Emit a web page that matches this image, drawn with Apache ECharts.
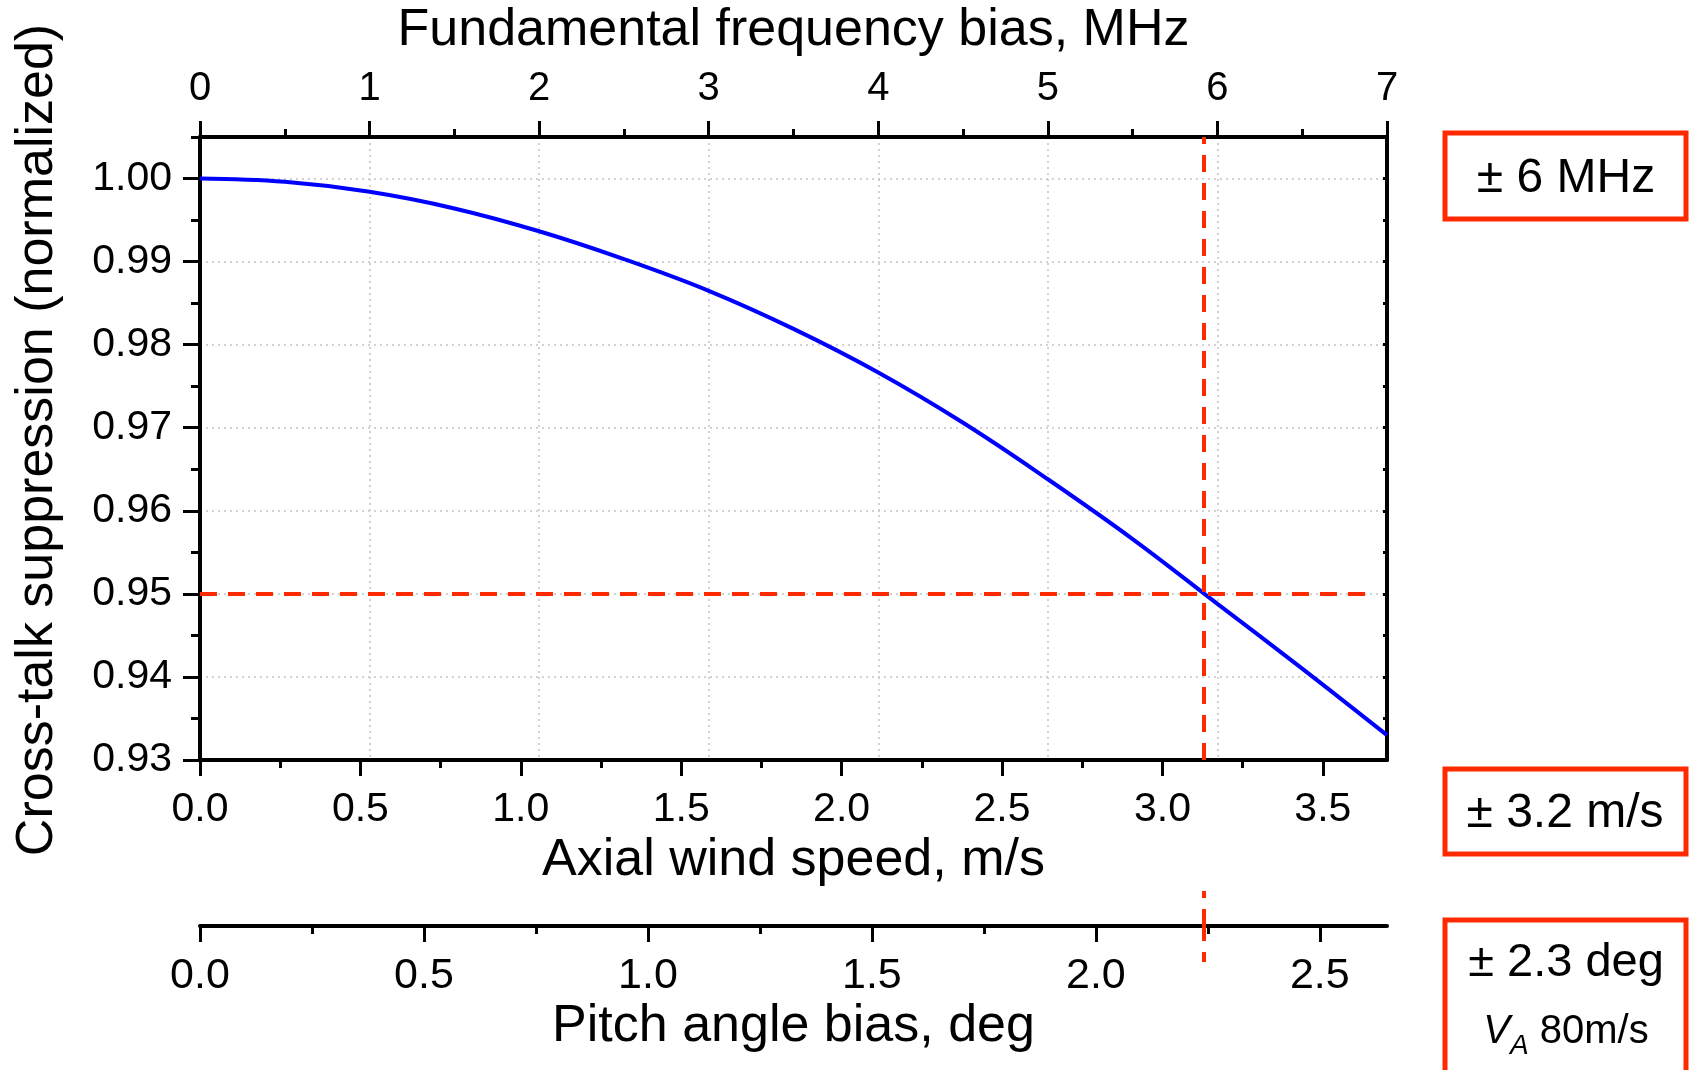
<!DOCTYPE html>
<html><head><meta charset="utf-8">
<script src="https://cdn.jsdelivr.net/npm/echarts@6/dist/echarts.min.js"></script>
<style>html,body{margin:0;padding:0;background:#fff}#c{width:1695px;height:1070px}</style>
</head><body><div id="c"></div>
<script>
// ---- data ----
const freqMHz = [0, 0.5, 1, 1.5, 2, 2.5, 3, 3.5, 4, 4.5, 5, 5.5, 6, 6.5, 7];
const suppression = [1.0000, 0.9996, 0.9984, 0.9964, 0.99365, 0.9903, 0.98648, 0.9819, 0.97665, 0.9706, 0.9638, 0.9566, 0.9488, 0.9410, 0.9330];
const thresholdLevel = 0.95;
const thresholdFreq = 5.92;
const thresholdLevelSpan = [0, 6.93];
const thresholdPitch = 2.24;
const freqRange = [0, 7];
const speedRange = [0, 3.7];
const pitchRange = [0, 2.65];
const yRange = [0.93, 1.005];
const yTicks = [0.93, 0.94, 0.95, 0.96, 0.97, 0.98, 0.99, 1.00];
const yMinorTicks = [0.935, 0.945, 0.955, 0.965, 0.975, 0.985, 0.995, 1.005];
const speedTicks = [0, 0.5, 1, 1.5, 2, 2.5, 3, 3.5];
const speedMinorTicks = [0.25, 0.75, 1.25, 1.75, 2.25, 2.75, 3.25];
const pitchTicks = [0, 0.5, 1, 1.5, 2, 2.5];
const pitchMinorTicks = [0.25, 0.75, 1.25, 1.75, 2.25];
const boxLabels = ['± 6 MHz', '± 3.2 m/s', '± 2.3 deg'];
const noteLabel = '{v|V}{a|A}{n| 80m/s}';

const FONT = '"Liberation Sans", Arial, Helvetica, sans-serif';
const RED = '#ff2a00';
const BLACK = '#000';
const PLOT = { left: 200, top: 137, width: 1187, height: 623 };
const PITCH_TOP = 891, PITCH_H = 35, PITCH_LOW_H = 36;

const axisLineStyle = { show: true, onZero: false, lineStyle: { color: BLACK, width: 4 } };
const tickStyle = (len, inside) => ({ show: true, inside: !!inside, length: len, lineStyle: { color: BLACK, width: 3 } });
const labelStyle = (size) => ({ color: BLACK, fontSize: size, fontFamily: FONT });
const nameStyle = { color: BLACK, fontSize: 52, fontFamily: FONT };
const dotted = { show: true, lineStyle: { color: '#c4c4c4', width: 1.5, type: [2, 4] } };
const dashed = { color: RED, width: 4, type: [17, 11] };
const hiddenAxis = (gi, range) => ({ type: 'value', gridIndex: gi, min: range[0], max: range[1], show: false, axisLine: { onZero: false } });
const last = a => a[a.length - 1];
// tick-only axis: regular interval ticks + minor ticks, no line/labels
const tickAxis = (gi, pos, ticks, majorLen, minorLen) => ({
  type: 'value', gridIndex: gi, position: pos, min: ticks[0], max: last(ticks), interval: ticks[1] - ticks[0],
  axisLine: { show: false, onZero: false },
  axisTick: tickStyle(majorLen),
  minorTick: { show: true, splitNumber: 2, length: minorLen, lineStyle: { color: BLACK, width: 3 } },
  axisLabel: { show: false }, splitLine: { show: false }
});

// grids for the tick-only axes (span only the ticked part of each axis)
const speedTickWidth = PLOT.width * (last(speedTicks) - speedRange[0]) / (speedRange[1] - speedRange[0]);
const pitchTickWidth = PLOT.width * (last(pitchTicks) - pitchRange[0]) / (pitchRange[1] - pitchRange[0]);
const yTickHeight = PLOT.height * (last(yTicks) - yRange[0]) / (yRange[1] - yRange[0]);

const chart = echarts.init(document.getElementById('c'), null, { renderer: 'canvas' });
chart.setOption({
  backgroundColor: '#fff',
  animation: false,
  textStyle: { fontFamily: FONT },
  grid: [
    Object.assign({ containLabel: false }, PLOT),                                                     // 0 main
    { left: PLOT.left, top: PITCH_TOP, width: PLOT.width, height: PITCH_H, containLabel: false },      // 1 pitch upper
    { left: PLOT.left, top: PITCH_TOP + PITCH_H, width: PLOT.width, height: PITCH_LOW_H, containLabel: false }, // 2 pitch lower
    { left: PLOT.left, top: PLOT.top, width: speedTickWidth, height: PLOT.height, containLabel: false }, // 3 speed ticks
    { left: PLOT.left, top: PLOT.top + PLOT.height - yTickHeight, width: PLOT.width, height: yTickHeight, containLabel: false }, // 4 y ticks
    { left: PLOT.left, top: PITCH_TOP, width: pitchTickWidth, height: PITCH_H, containLabel: false }     // 5 pitch ticks
  ],
  xAxis: [
    { // 0 top: frequency
      type: 'value', gridIndex: 0, position: 'top', min: freqRange[0], max: freqRange[1], interval: 1,
      axisLine: axisLineStyle, axisTick: tickStyle(16),
      minorTick: { show: true, splitNumber: 2, length: 8, lineStyle: { color: BLACK, width: 3 } },
      axisLabel: Object.assign({ margin: 28 }, labelStyle(40)),
      splitLine: dotted,
      name: 'Fundamental frequency bias, MHz', nameLocation: 'middle', nameGap: 80, nameTextStyle: nameStyle
    },
    { // 1 bottom: wind speed
      type: 'value', gridIndex: 0, position: 'bottom', min: speedRange[0], max: speedRange[1], interval: 0.5,
      axisLine: axisLineStyle,
      axisTick: Object.assign(tickStyle(16), { customValues: speedTicks }),
      axisLabel: Object.assign({ margin: 29, customValues: speedTicks, formatter: v => v.toFixed(1) }, labelStyle(41)),
      splitLine: { show: false },
      name: 'Axial wind speed, m/s', nameLocation: 'middle', nameGap: 72, nameTextStyle: nameStyle
    },
    { // 2 bottom minor ticks
      type: 'value', gridIndex: 0, position: 'bottom', min: speedRange[0], max: speedRange[1], interval: 0.25,
      axisLine: { show: false, onZero: false },
      axisTick: Object.assign(tickStyle(8), { customValues: speedMinorTicks }),
      axisLabel: { show: false }, splitLine: { show: false }
    },
    { // 3 pitch angle: line, labels, name
      type: 'value', gridIndex: 1, position: 'bottom', min: pitchRange[0], max: pitchRange[1], interval: 0.5,
      axisLine: { show: true, onZero: false, lineStyle: { color: BLACK, width: 4 } },
      axisTick: Object.assign(tickStyle(16), { customValues: pitchTicks }),
      axisLabel: Object.assign({ margin: 29, customValues: pitchTicks, formatter: v => v.toFixed(1) }, labelStyle(43)),
      splitLine: { show: false },
      name: 'Pitch angle bias, deg', nameLocation: 'middle', nameGap: 75, nameTextStyle: nameStyle
    },
    { // 4 pitch lower strip (carries the marker below the axis)
      type: 'value', gridIndex: 2, position: 'top', min: pitchRange[0], max: pitchRange[1], interval: 0.25,
      axisLine: { show: false, onZero: false },
      axisTick: Object.assign(tickStyle(8, true), { customValues: pitchMinorTicks }),
      axisLabel: { show: false }, splitLine: { show: false }
    },
    tickAxis(3, 'bottom', speedTicks, 16, 8),   // 5 speed ticks
    hiddenAxis(4, [0, 1]),                      // 6
    tickAxis(5, 'bottom', pitchTicks, 16, 8)    // 7 pitch ticks
  ],
  yAxis: [
    {
      type: 'value', gridIndex: 0, position: 'left', min: yRange[0], max: yRange[1], interval: 0.01,
      axisLine: axisLineStyle,
      axisTick: Object.assign(tickStyle(17), { customValues: yTicks }),
      axisLabel: Object.assign({ margin: 28, customValues: yTicks, formatter: v => v.toFixed(2) }, labelStyle(41)),
      splitLine: dotted,
      name: 'Cross-talk suppression (normalized)', nameLocation: 'middle', nameGap: 136,
      nameTextStyle: Object.assign({ padding: [0, 0, 0, 17] }, nameStyle)
    },
    {
      type: 'value', gridIndex: 0, position: 'left', min: yRange[0], max: yRange[1], interval: 0.005,
      axisLine: { show: false, onZero: false },
      axisTick: Object.assign(tickStyle(9), { customValues: yMinorTicks }),
      axisLabel: { show: false }, splitLine: { show: false }
    },
    {
      type: 'value', gridIndex: 0, position: 'right', min: yRange[0], max: yRange[1], interval: 0.005,
      axisLine: axisLineStyle, axisTick: tickStyle(4, true),
      axisLabel: { show: false }, splitLine: { show: false }
    },
    hiddenAxis(1, [0, 1]),                      // 3
    hiddenAxis(2, [0, 1]),                      // 4
    hiddenAxis(3, [0, 1]),                      // 5
    Object.assign(tickAxis(4, 'left', yTicks, 17, 9), { type: 'value' }), // 6 y ticks
    hiddenAxis(5, [0, 1])                       // 7
  ],
  series: [
    {
      type: 'line', name: 'suppression', xAxisIndex: 0, yAxisIndex: 0,
      data: freqMHz.map((f, i) => [f, suppression[i]]),
      smooth: 0.4, symbol: 'none', lineStyle: { color: '#0000ff', width: 4 }, z: 3,
      markLine: {
        silent: true, symbol: 'none', label: { show: false }, lineStyle: dashed,
        data: [
          [{ coord: [thresholdLevelSpan[0], thresholdLevel] }, { coord: [thresholdLevelSpan[1], thresholdLevel] }],
          { xAxis: thresholdFreq }
        ]
      }
    },
    {
      type: 'line', name: 'pitch-upper', xAxisIndex: 3, yAxisIndex: 3, data: [], symbol: 'none',
      markLine: { silent: true, symbol: 'none', label: { show: false }, lineStyle: dashed, data: [{ xAxis: thresholdPitch }] }
    },
    {
      type: 'line', name: 'pitch-lower', xAxisIndex: 4, yAxisIndex: 4, data: [], symbol: 'none',
      markLine: { silent: true, symbol: 'none', label: { show: false }, lineStyle: Object.assign({ dashOffset: 7 }, dashed), data: [{ xAxis: thresholdPitch }] }
    },
    { type: 'line', name: 'speed-ticks', xAxisIndex: 5, yAxisIndex: 5, data: [], symbol: 'none' },
    { type: 'line', name: 'y-ticks', xAxisIndex: 6, yAxisIndex: 6, data: [], symbol: 'none' },
    { type: 'line', name: 'pitch-ticks', xAxisIndex: 7, yAxisIndex: 7, data: [], symbol: 'none' }
  ],
  graphic: [
    { type: 'rect', shape: { x: 1445, y: 133, width: 241, height: 86 }, style: { fill: 'none', stroke: RED, lineWidth: 5 } },
    { type: 'rect', shape: { x: 1445, y: 769, width: 241, height: 85 }, style: { fill: 'none', stroke: RED, lineWidth: 5 } },
    { type: 'rect', shape: { x: 1445, y: 920, width: 241, height: 170 }, style: { fill: 'none', stroke: RED, lineWidth: 5 } },
    { type: 'text', x: 1566, y: 179, style: { text: boxLabels[0], fontSize: 48, fontFamily: FONT, fill: BLACK, align: 'center', verticalAlign: 'middle' } },
    { type: 'text', x: 1565, y: 814, style: { text: boxLabels[1], fontSize: 48, fontFamily: FONT, fill: BLACK, align: 'center', verticalAlign: 'middle' } },
    { type: 'text', x: 1566, y: 963, style: { text: boxLabels[2], fontSize: 47, fontFamily: FONT, fill: BLACK, align: 'center', verticalAlign: 'middle' } },
    { type: 'text', x: 1566, y: 1032, style: {
        text: noteLabel, fontFamily: FONT, fill: BLACK, align: 'center', verticalAlign: 'middle',
        rich: {
          v: { fontSize: 40, fontStyle: 'italic', fontFamily: FONT, lineHeight: 56, verticalAlign: 'middle' },
          a: { fontSize: 28, fontStyle: 'italic', fontFamily: FONT, lineHeight: 28, verticalAlign: 'bottom' },
          n: { fontSize: 40, fontFamily: FONT, lineHeight: 56, verticalAlign: 'middle' }
        } } }
  ]
});
</script></body></html>
